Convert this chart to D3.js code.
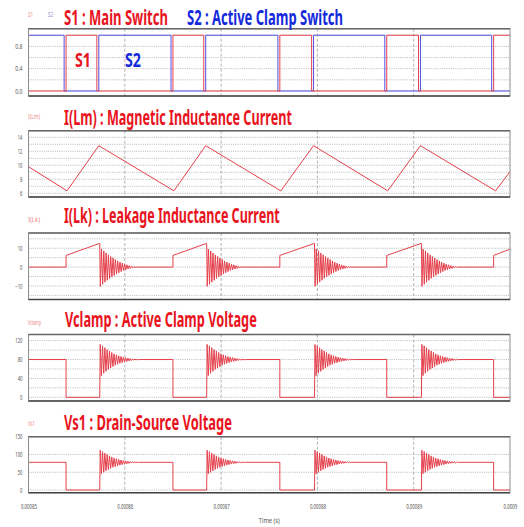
<!DOCTYPE html>
<html>
<head>
<meta charset="utf-8">
<script src="https://cdn.jsdelivr.net/npm/d3@7"></script>
<style>
body { margin: 0; background: #fff; }
text { font-family: 'Noto Sans', 'DejaVu Sans', sans-serif; }
</style>
</head>
<body>
<svg></svg>
<script>
// time axis
let timeTicks = [0.00085, 0.00086, 0.00087, 0.00088, 0.00089, 0.0009]
let timeLabels = ['0.00085', '0.00086', '0.00087', '0.00088', '0.00089', '0.0009']

let s1Rise = [0.0008539, 0.0008650, 0.0008761, 0.0008872, 0.0008983]
let s1Fall = [0.0008571, 0.0008682, 0.0008794, 0.0008905]
let s2Fall = [0.0008537, 0.0008648, 0.0008759, 0.0008870, 0.0008981]
let s2Rise = [0.0008573, 0.0008684, 0.0008796, 0.0008907]
// instant where the ringing starts (traces 2-5)
let ringStart = [0.0008574, 0.0008685, 0.0008797, 0.0008908]

// I(Lm) triangle vertices
let iLmTime = [0.00085, 0.0008540, 0.0008573, 0.0008651, 0.0008684, 0.0008762, 0.0008796, 0.0008873, 0.0008907, 0.0008985, 0.0009]
let iLmValue = [9.8, 6.35, 12.8, 6.35, 12.8, 6.35, 12.8, 6.35, 12.8, 6.35, 9.1]

// I(Lk): step, ramp, ringing
let lkStep = 6.2
let lkPeak = 12.6
let lkEnd = 9.5
let lkRing = [-10.2, 9.6, -9.1, 8.6, -8.0, 7.5, -7.0, 6.5, -6.0, 5.6, -5.2, 4.8, -4.4, 4.0, -3.7, 3.3,
  -3.0, 2.7, -2.4, 2.1, -1.8, 1.6, -1.4, 1.2, -1.0, 0.8, -0.7, 0.5, -0.4, 0.3, -0.2, 0.1, 0]

// Vclamp and Vs1 levels and ringing extremes
let vcHigh = 80
let vcRing = [112, 46, 109, 51, 105, 55, 101, 59, 98, 62, 95, 65, 92, 68, 90, 70, 88, 72, 86.5, 73.5,
  85, 75, 84, 76, 83, 77, 82, 78, 81.3, 78.7, 80.8, 79.2, 80.4, 79.6, 80]
let vsHigh = 78
let vsRing = [112, 46, 108, 50, 104, 54, 100, 58, 96, 61, 93, 64, 90, 66, 88, 68, 86, 70, 84.5, 71.5,
  83, 73, 82, 74, 81, 75, 80, 76, 79.5, 76.5, 79, 77, 78.5, 77.5, 78]
let ringHalf = 1.2e-7

// y tick labels per panel
let s1Ticks = [0, 0.4, 0.8]
let iLmTicks = [6, 8, 10, 12, 14]
let iLkTicks = [-10, 0, 10]
let vcTicks = [0, 40, 80, 120]
let vsTicks = [0, 50, 100, 150]

let width = 524
let height = 527
let left = 28.5
let right = 510

let red = '#e8141e'
let blue = '#1428dc'
let trace = '#e4404c'

let svg = d3.select('svg').attr('width', width).attr('height', height)

let xScale = d3.scaleLinear().domain([0.00085, 0.0009]).range([left, right])

// squeeze a text horizontally to a given width (the reference font is very narrow)
let squeeze = (sel, widthFn) => sel.each(function () {
  let el = d3.select(this)
  let x = +el.attr('x') || 0
  let y = +el.attr('y') || 0
  let w = this.getComputedTextLength()
  let sx = widthFn(this.textContent) / w
  el.attr('x', 0).attr('y', 0)
    .attr('transform', 'translate(' + x + ',' + y + ') scale(' + sx + ',1)')
})

// ---- build traces ----
let t0 = 0.00085, t1 = 0.0009

let s1Pts = [[t0, 0]]
s1Rise.forEach((r, i) => {
  s1Pts.push([r, 0], [r, 1])
  if (s1Fall[i] !== undefined) s1Pts.push([s1Fall[i], 1], [s1Fall[i], 0])
})
s1Pts.push([t1, 1])

let s2Pts = [[t0, 1]]
s2Fall.forEach((f, i) => {
  s2Pts.push([f, 1], [f, 0])
  if (s2Rise[i] !== undefined) s2Pts.push([s2Rise[i], 0], [s2Rise[i], 1])
})
s2Pts.push([t1, 0])

let iLmPts = iLmTime.map((t, i) => [t, iLmValue[i]])

let iLkPts = [[t0, 0]]
s1Rise.forEach((r, i) => {
  iLkPts.push([r, 0], [r, lkStep])
  if (ringStart[i] !== undefined) {
    iLkPts.push([ringStart[i], lkPeak])
    lkRing.forEach((v, k) => iLkPts.push([ringStart[i] + (k + 0.5) * ringHalf, v]))
  }
})
iLkPts.push([t1, lkEnd])

let voltPts = (high, ring) => {
  let pts = [[t0, high]]
  s1Rise.forEach((r, i) => {
    pts.push([r, high], [r, 0])
    if (ringStart[i] !== undefined) {
      pts.push([ringStart[i], 0])
      ring.forEach((v, k) => pts.push([ringStart[i] + (k + 0.4) * ringHalf, v]))
    }
  })
  pts.push([t1, 0])
  return pts
}

// ---- panel layout ----
let panels = [
  { top: 28.7, bottom: 96, domain: [-0.09, 1.117], ticks: s1Ticks, grid: [0, 0.2, 0.4, 0.6, 0.8, 1.0],
    tag: [['S1', 28, '#ec8a8a', 5], ['S2', 48, '#8a8ad8', 5]], tagY: 17,
    titles: [['S1 : Main Switch', 64, 104, red], ['S2 : Active Clamp Switch', 187, 156, blue]], titleY: 25,
    series: [[s2Pts, '#5050e0'], [s1Pts, '#e8404c']] },
  { top: 130.7, bottom: 197, domain: [5.47, 14.94], ticks: iLmTicks, grid: [6, 7, 8, 9, 10, 11, 12, 13, 14],
    tag: [['I(Lm)', 28, '#ec8a8a', 12]], tagY: 119,
    titles: [['I(Lm) : Magnetic Inductance Current', 64, 228, red]], titleY: 125,
    series: [[iLmPts, trace]] },
  { top: 233, bottom: 299.5, domain: [-17.2, 18.1], ticks: iLkTicks, grid: [-15, -10, -5, 0, 5, 10, 15],
    tag: [['I(Lk)', 28, '#ec8a8a', 12]], tagY: 222,
    titles: [['I(Lk) : Leakage Inductance Current', 64, 216, red]], titleY: 223,
    series: [[iLkPts, trace]] },
  { top: 334.5, bottom: 401, domain: [-7.8, 133], ticks: vcTicks, grid: [0, 20, 40, 60, 80, 100, 120],
    tag: [['Vclamp', 28, '#ec8a8a', 13]], tagY: 325,
    titles: [['Vclamp : Active Clamp Voltage', 65, 192, red]], titleY: 327,
    series: [[voltPts(vcHigh, vcRing), trace]] },
  { top: 436.7, bottom: 492.7, domain: [-7.5, 150], ticks: vsTicks, grid: [0, 50, 100],
    tag: [['Vs1', 28, '#ec8a8a', 7]], tagY: 426,
    titles: [['Vs1 : Drain-Source Voltage', 64, 168, red]], titleY: 430,
    series: [[voltPts(vsHigh, vsRing), trace]] }
]

let defs = svg.append('defs')

panels.forEach((p, pi) => {
  let yScale = d3.scaleLinear().domain(p.domain).range([p.bottom, p.top])
  let g = svg.append('g')

  defs.append('clipPath').attr('id', 'clip' + pi)
    .append('rect')
    .attr('x', left).attr('y', p.top)
    .attr('width', right - left).attr('height', p.bottom - p.top)

  // horizontal dotted grid
  g.selectAll('.hgrid')
    .data(p.grid)
    .enter()
    .append('line')
    .attr('x1', left).attr('x2', right)
    .attr('y1', (d) => yScale(d)).attr('y2', (d) => yScale(d))
    .attr('stroke', '#9a9a9a')
    .attr('stroke-width', 0.7)
    .attr('stroke-dasharray', '1,1.2')

  // vertical dashed grid
  g.selectAll('.vgrid')
    .data(timeTicks.slice(1, -1))
    .enter()
    .append('line')
    .attr('x1', (d) => xScale(d)).attr('x2', (d) => xScale(d))
    .attr('y1', p.top).attr('y2', p.bottom)
    .attr('stroke', '#a0a0a0')
    .attr('stroke-width', 0.8)
    .attr('stroke-dasharray', '3,2')

  // traces
  let line = d3.line().x((d) => xScale(d[0])).y((d) => yScale(d[1]))
  p.series.forEach((s) => {
    g.append('path')
      .attr('d', line(s[0]))
      .attr('fill', 'none')
      .attr('stroke', s[1])
      .attr('stroke-width', 1)
      .attr('clip-path', 'url(#clip' + pi + ')')
  })

  // frame
  g.append('rect')
    .attr('x', left).attr('y', p.top)
    .attr('width', right - left).attr('height', p.bottom - p.top)
    .attr('fill', 'none')
    .attr('stroke', '#8c8c8c')
    .attr('stroke-width', 1)
  g.append('line')
    .attr('x1', left).attr('x2', right).attr('y1', p.top).attr('y2', p.top)
    .attr('stroke', '#666').attr('stroke-width', 1.5)
  g.append('line')
    .attr('x1', left).attr('x2', right).attr('y1', p.bottom).attr('y2', p.bottom)
    .attr('stroke', '#444').attr('stroke-width', 1.5)

  // y axis labels
  let yAxis = d3.axisLeft(yScale).tickValues(p.ticks).tickSize(0).tickPadding(6)
  let ya = svg.append('g')
    .attr('transform', 'translate(' + left + ', 0)')
    .call(yAxis)
  ya.select('.domain').remove()
  let yt = ya.selectAll('text')
    .attr('fill', '#555')
    .style('font-size', '7px')
  squeeze(yt, (s) => s.length * 2.4)

  // small series tags
  p.tag.forEach((t) => {
    let tx = svg.append('text')
      .attr('x', t[1]).attr('y', p.tagY)
      .attr('fill', t[2])
      .style('font-size', '6.5px')
      .text(t[0])
    squeeze(tx, () => t[3])
  })

  // titles
  p.titles.forEach((t) => {
    let tx = svg.append('text')
      .attr('x', t[1]).attr('y', p.titleY)
      .attr('fill', t[3])
      .style('font-size', '21px')
      .style('font-weight', 'bold')
      .text(t[0])
    squeeze(tx, () => t[2])
  })
})

// S1 / S2 labels inside the first panel
let s1Lbl = svg.append('text')
  .attr('x', 75).attr('y', 67)
  .attr('fill', red)
  .style('font-size', '20px').style('font-weight', 'bold')
  .text('S1')
squeeze(s1Lbl, () => 16)
let s2Lbl = svg.append('text')
  .attr('x', 125).attr('y', 67)
  .attr('fill', blue)
  .style('font-size', '20px').style('font-weight', 'bold')
  .text('S2')
squeeze(s2Lbl, () => 16)

// time axis
let last = panels[panels.length - 1]
let xAxis = d3.axisBottom(xScale)
  .tickValues(timeTicks)
  .tickFormat((d, i) => timeLabels[i])
  .tickSize(0)
  .tickPadding(11)
let xa = svg.append('g')
  .attr('transform', 'translate(0, ' + last.bottom + ')')
  .call(xAxis)
xa.select('.domain').remove()
let xt = xa.selectAll('text')
  .attr('fill', '#555')
  .style('font-size', '7px')
squeeze(xt, (s) => s.length * 2.3)

let timeLbl = svg.append('text')
  .attr('x', (left + right) / 2).attr('y', 523)
  .attr('text-anchor', 'middle')
  .attr('fill', '#555')
  .style('font-size', '7px')
  .text('Time (s)')
squeeze(timeLbl, () => 21)
</script>
</body>
</html>
